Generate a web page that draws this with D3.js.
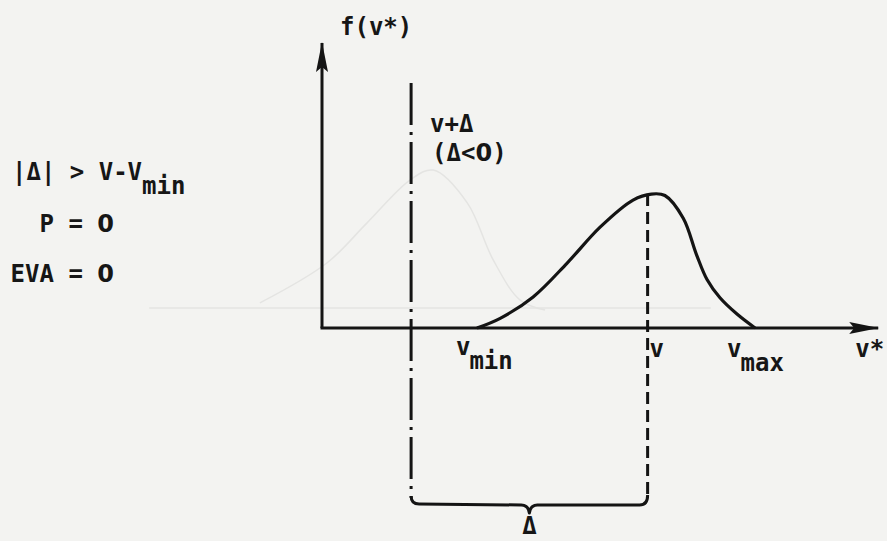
<!DOCTYPE html>
<html>
<head>
<meta charset="utf-8">
<script src="https://cdn.jsdelivr.net/npm/d3@7"></script>
<style>
  html, body { margin: 0; padding: 0; background: #f3f3f1; }
  svg { display: block; }
  text { font-family: "DejaVu Sans Mono", "Liberation Mono", monospace; font-weight: bold; fill: #161616; }
  .zero { font-family: "DejaVu Sans", sans-serif; }
</style>
</head>
<body>
<svg id="chart" width="887" height="541"></svg>
<script>
// Density f(v*) sketched between v_min and v_max, peaking at v
const curveV = [28.7, 33.0, 39.1, 45.4, 51.5, 57.6, 61.0, 63.5, 66.9, 69.4, 71.3, 73.7, 76.9, 80.2];
const curveF = [0, 3.4, 10.9, 22.8, 35.4, 44.9, 47.0, 46.5, 38.5, 25.5, 17.0, 10.6, 4.8, 0];

// Faint trace showing through the sheet
const ghostV = [-11.5, 0.9, 8.3, 16.3, 20.6, 26.9, 31.7, 36.7, 41.3];
const ghostF = [8.8, 22.8, 36.8, 51.9, 55.4, 43.9, 23.9, 9.8, 6.3];
const ghostBase = { from: -32, to: 72, f: 7 };

// Marked points on the v* axis
const vMin = 28.7;
const vMode = 60.3;
const vMax = 80.2;
const vShift = 16.5;   // v + Δ, with Δ < 0
const axisEnd = { v: 103, f: 100 };

// Text
const axisLabelY = "f(v*)";
const axisLabelX = "v*";
const shiftLabel = ["v+Δ", "(Δ<0)"];
const deltaLabel = "Δ";
const conditionRows = [["P = ", "0"], ["EVA = ", "0"]];

const svg = d3.select("#chart");
const x = d3.scaleLinear().domain([0, 100]).range([322, 862]);
const y = d3.scaleLinear().domain([0, 100]).range([328, 43]);
const ink = "#141414";

// faint show-through
const ghost = svg.append("g").attr("fill", "none").attr("stroke", "#e4e4e2").attr("stroke-width", 1.5);
ghost.append("path")
  .attr("d", d3.line().x(d => x(d[0])).y(d => y(d[1])).curve(d3.curveCatmullRom)(ghostV.map((v, i) => [v, ghostF[i]])));
ghost.append("line")
  .attr("x1", x(ghostBase.from)).attr("x2", x(ghostBase.to))
  .attr("y1", y(ghostBase.f)).attr("y2", y(ghostBase.f));

// arrow heads
const defs = svg.append("defs");
defs.append("marker")
  .attr("id", "arrow").attr("viewBox", "0 0 30 16").attr("refX", 29).attr("refY", 8)
  .attr("markerWidth", 30).attr("markerHeight", 16).attr("markerUnits", "userSpaceOnUse")
  .attr("orient", "auto")
  .append("path").attr("d", "M0,2 L30,8 L0,14 L5,8 Z").attr("fill", ink);

// axes
svg.append("line")
  .attr("x1", x(0)).attr("y1", y(0)).attr("x2", x(0)).attr("y2", y(axisEnd.f))
  .attr("stroke", ink).attr("stroke-width", 3).attr("marker-end", "url(#arrow)");
svg.append("line")
  .attr("x1", x(0) - 1.5).attr("y1", y(0)).attr("x2", x(axisEnd.v)).attr("y2", y(0))
  .attr("stroke", ink).attr("stroke-width", 3).attr("marker-end", "url(#arrow)");

// density curve
svg.append("path")
  .attr("d", d3.line().x(d => x(d[0])).y(d => y(d[1])).curve(d3.curveCatmullRom.alpha(0.5))(curveV.map((v, i) => [v, curveF[i]])))
  .attr("fill", "none").attr("stroke", ink).attr("stroke-width", 3.2).attr("stroke-linejoin", "round");

// brace bottom
const braceY = 504;
const xL = x(vShift), xR = x(vMode), xM = (xL + xR) / 2;

// dash-dot line at v + Δ
svg.append("line")
  .attr("x1", xL).attr("x2", xL).attr("y1", 83).attr("y2", braceY - 6)
  .attr("stroke", ink).attr("stroke-width", 3)
  .attr("stroke-dasharray", "42,7,3,7");

// dashed line at v
svg.append("line")
  .attr("x1", xR).attr("x2", xR).attr("y1", y(47)).attr("y2", braceY - 8)
  .attr("stroke", ink).attr("stroke-width", 3)
  .attr("stroke-dasharray", "12,6");

// brace Δ
const brace = d3.path();
brace.moveTo(xL, braceY - 8);
brace.quadraticCurveTo(xL, braceY, xL + 8, braceY);
brace.lineTo(xM - 8, braceY + 1);
brace.quadraticCurveTo(xM - 1, braceY + 1, xM, braceY + 9);
brace.quadraticCurveTo(xM + 1, braceY + 1, xM + 8, braceY + 1);
brace.lineTo(xR - 8, braceY + 1);
brace.quadraticCurveTo(xR, braceY + 1, xR, braceY - 9);
svg.append("path").attr("d", brace.toString())
  .attr("fill", "none").attr("stroke", ink).attr("stroke-width", 3).attr("stroke-linejoin", "round");

// labels
const fs = 24;
const label = (t, px, py, anchor) => svg.append("text")
  .attr("x", px).attr("y", py).attr("font-size", fs)
  .attr("text-anchor", anchor || "start").text(t);

label(axisLabelY, x(0) + 18, 35);
label(axisLabelX, x(axisEnd.v) - 23, 357);
label(shiftLabel[0], xL + 19, 132);
// "(Δ<0)" with a plain zero
const shift2 = svg.append("text").attr("x", xL + 21).attr("y", 161).attr("font-size", fs);
shift2.append("tspan").text("(Δ<");
shift2.append("tspan").attr("class", "zero").text("0");
shift2.append("tspan").text(")");
label(deltaLabel, xM, 534, "middle");

// v_min, v, v_max
const sub = (main, s, px, py) => {
  const t = svg.append("text").attr("x", px).attr("y", py).attr("font-size", fs);
  t.append("tspan").text(main);
  t.append("tspan").attr("dy", 14).attr("dx", -1).text(s);
};
sub("v", "min", x(vMin) - 21, 355);
label("v", xR + 2, 357);
sub("v", "max", x(vMax) - 28, 357);

// condition block
const cond = svg.append("text").attr("x", 12).attr("y", 180).attr("font-size", fs);
cond.append("tspan").text("|Δ| > V-V");
cond.append("tspan").attr("dy", 14).text("min");
conditionRows.forEach((row, i) => {
  const t = svg.append("text").attr("x", 114).attr("y", 232 + i * 50)
    .attr("font-size", fs).attr("text-anchor", "end").attr("xml:space", "preserve");
  t.append("tspan").text(row[0]);
  t.append("tspan").attr("class", "zero").text(row[1]);
});
</script>
</body>
</html>
